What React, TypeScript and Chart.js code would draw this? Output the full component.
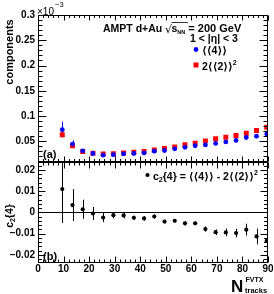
import { useEffect, useRef } from 'react';
import { Chart, registerables } from 'chart.js';

Chart.register(...registerables);

const FONT = '"Liberation Sans", Arial, Helvetica, "DejaVu Sans", sans-serif';

// N_tracks^FVTX bin centres
const nTracks = [9.5, 13.5, 17.5, 21.5, 25.5, 29.5, 33.5, 37.5, 41.5, 45.5, 49.5, 53.5, 57.5, 61.5, 65.5, 69.5, 73.5, 77.5, 81.5, 85.5, 89.5];
// <<4>> (x 1e-3)
const fourCorr = [0.073, 0.0445, 0.031, 0.0258, 0.0225, 0.0236, 0.0252, 0.0258, 0.027, 0.0305, 0.0318, 0.035, 0.038, 0.0412, 0.0428, 0.0457, 0.0488, 0.0518, 0.0575, 0.0602, 0.0643];
const fourCorrErr = [0.0155, 0.0075, 0.003, 0.002, 0.0015, 0.0013, 0.0012, 0.0011, 0.001, 0.001, 0.001, 0.001, 0.001, 0.001, 0.0011, 0.0012, 0.0013, 0.0014, 0.0016, 0.0018, 0.002];
// 2<<2>>^2 (x 1e-3)
const twoCorrSq = [0.063, 0.041, 0.0296, 0.0263, 0.0251, 0.0252, 0.027, 0.0284, 0.03, 0.0326, 0.0359, 0.039, 0.0432, 0.0464, 0.0508, 0.0552, 0.0582, 0.0615, 0.0658, 0.0715, 0.0778];
const twoCorrSqErr = [0.004, 0.002, 0.0012, 0.001, 0.0008, 0.0008, 0.0008, 0.0008, 0.0008, 0.0008, 0.0008, 0.0008, 0.0008, 0.0008, 0.0009, 0.0009, 0.001, 0.001, 0.0011, 0.0012, 0.0013];
// c2{4}
const c24 = [0.011, 0.0035, 0.0015, -0.0005, -0.0024, -0.0013, -0.0014, -0.0025, -0.0028, -0.0019, -0.0043, -0.0039, -0.0051, -0.0051, -0.0078, -0.0093, -0.0094, -0.0097, -0.0081, -0.0113, -0.0134];
const c24Err = [0.016, 0.0075, 0.0045, 0.0031, 0.0022, 0.0014, 0.0014, 0.001, 0.001, 0.001, 0.0008, 0.0008, 0.001, 0.0008, 0.0012, 0.0013, 0.0018, 0.002, 0.0028, 0.0037, 0.0031];

const xTickValues = [0, 10, 20, 30, 40, 50, 60, 70, 80, 90];
const xTickLabels = ['0', '10', '20', '30', '40', '50', '60', '70', '80', '90'];
const topTickValues = [0.05, 0.1, 0.15, 0.2, 0.25, 0.3];
const topTickLabels = ['0.05', '0.1', '0.15', '0.2', '0.25', '0.3'];
const botTickValues = [-0.02, -0.01, 0, 0.01, 0.02];
const botTickLabels = ['\u22120.02', '\u22120.01', '0', '0.01', '0.02'];

const BLUE = '#0000ff';
const RED = '#ff0000';

type Run = { t: string; size: number; dy?: number; bold?: boolean; family?: string };

function font(size: number, bold = true, family = FONT) {
  return `${bold ? 'bold ' : ''}${size}px ${family}`;
}

function runsWidth(ctx: CanvasRenderingContext2D, runs: Run[]) {
  let w = 0;
  for (const r of runs) {
    ctx.font = font(r.size, r.bold ?? true, r.family);
    w += ctx.measureText(r.t).width;
  }
  return w;
}

function drawRuns(ctx: CanvasRenderingContext2D, runs: Run[], x: number, y: number) {
  let cx = x;
  ctx.textAlign = 'left';
  ctx.textBaseline = 'alphabetic';
  for (const r of runs) {
    ctx.font = font(r.size, r.bold ?? true, r.family);
    ctx.fillText(r.t, cx, y + (r.dy || 0));
    cx += ctx.measureText(r.t).width;
  }
  return cx;
}

function hline(ctx: CanvasRenderingContext2D, x1: number, x2: number, y: number) {
  ctx.beginPath();
  ctx.moveTo(x1, y);
  ctx.lineTo(x2, y);
  ctx.stroke();
}
function vline(ctx: CanvasRenderingContext2D, x: number, y1: number, y2: number) {
  ctx.beginPath();
  ctx.moveTo(x, y1);
  ctx.lineTo(x, y2);
  ctx.stroke();
}

function drawErrors(ctx: CanvasRenderingContext2D, xs: any, ys: any, xv: number[], yv: number[], ev: number[], color: string) {
  ctx.save();
  ctx.beginPath();
  ctx.rect(xs.left, ys.top, xs.right - xs.left, ys.bottom - ys.top);
  ctx.clip();
  ctx.strokeStyle = color;
  ctx.lineWidth = 1;
  for (let i = 0; i < xv.length; i++) {
    const px = Math.round(xs.getPixelForValue(xv[i])) + 0.5;
    const y1 = ys.getPixelForValue(yv[i] + ev[i]);
    const y2 = ys.getPixelForValue(yv[i] - ev[i]);
    vline(ctx, px, y1, y2);
  }
  ctx.restore();
}

function drawPanel(ctx: CanvasRenderingContext2D, xs: any, ys: any, majors: number[], minorStep: number,
  yMaj: number, yMin: number, xMaj: number, xMin: number) {
  const L = Math.round(xs.left) + 0.5;
  const R = Math.round(xs.right) - 0.5;
  const T = Math.round(ys.top) + 0.5;
  const B = Math.round(ys.bottom) - 0.5;
  ctx.save();
  ctx.strokeStyle = '#000';
  ctx.lineWidth = 1;
  ctx.strokeRect(L, T, R - L, B - T);
  const lo = ys.min, hi = ys.max;
  const start = Math.ceil(lo / minorStep - 1e-6);
  const end = Math.floor(hi / minorStep + 1e-6);
  for (let k = start; k <= end; k++) {
    const v = k * minorStep;
    const isMaj = majors.some((m) => Math.abs(m - v) < minorStep / 10);
    const len = isMaj ? yMaj : yMin;
    const py = Math.round(ys.getPixelForValue(v)) + 0.5;
    hline(ctx, L, L + len, py);
    hline(ctx, R, R - len, py);
  }
  for (let v = 0; v <= 90; v += 2) {
    const isMaj = v % 10 === 0;
    const len = isMaj ? xMaj : xMin;
    const px = Math.round(xs.getPixelForValue(v)) + 0.5;
    vline(ctx, px, T, T + len);
    vline(ctx, px, B, B - len);
  }
  ctx.restore();
}

const rootStyle = {
  id: 'rootStyle',
  beforeDatasetsDraw(chart: any) {
    const ctx = chart.ctx as CanvasRenderingContext2D;
    const { x, yTop, yBot } = chart.scales;
    ctx.save();
    ctx.strokeStyle = '#000';
    ctx.lineWidth = 1;
    const y0 = Math.round(yBot.getPixelForValue(0)) + 0.5;
    hline(ctx, x.left, x.right, y0);
    ctx.restore();
    drawErrors(ctx, x, yTop, nTracks, twoCorrSq, twoCorrSqErr, RED);
    drawErrors(ctx, x, yTop, nTracks, fourCorr, fourCorrErr, BLUE);
    drawErrors(ctx, x, yBot, nTracks, c24, c24Err, '#000');
  },
  afterDatasetsDraw(chart: any) {
    const ctx = chart.ctx as CanvasRenderingContext2D;
    const { x, yTop, yBot } = chart.scales;
    drawPanel(ctx, x, yTop, topTickValues, 0.01, 8, 4, 5, 2.5);
    drawPanel(ctx, x, yBot, botTickValues, 0.002, 7, 3.5, 6, 3);

    ctx.save();
    ctx.fillStyle = '#000';
    // x10^-3
    drawRuns(ctx, [{ t: '\u00d710', size: 10, bold: false }], 37, 15);
    drawRuns(ctx, [{ t: '\u22123', size: 7.5, bold: false }], 55, 7);

    // y title upper
    ctx.save();
    ctx.translate(12.5, 52);
    ctx.rotate(-Math.PI / 2);
    ctx.font = font(11);
    ctx.textAlign = 'center';
    ctx.textBaseline = 'alphabetic';
    ctx.fillText('components', 0, 0);
    ctx.restore();

    // y title lower: c2{4}
    ctx.save();
    const cRuns: Run[] = [{ t: 'c', size: 10.5 }, { t: '2', size: 7, dy: 2.5 }, { t: '{4}', size: 10.5 }];
    const cw = runsWidth(ctx, cRuns);
    ctx.translate(12.5, 216);
    ctx.rotate(-Math.PI / 2);
    drawRuns(ctx, cRuns, -cw / 2, 0);
    ctx.restore();

    // x title
    drawRuns(ctx, [{ t: 'N', size: 17 }], 231, 291.5);
    drawRuns(ctx, [{ t: 'FVTX', size: 7 }], 245.5, 282);
    drawRuns(ctx, [{ t: 'tracks', size: 7.5 }], 245, 292.5);

    // panel labels
    drawRuns(ctx, [{ t: '(a)', size: 11 }], 43, 158);
    drawRuns(ctx, [{ t: '(b)', size: 11 }], 43, 260);

    // upper annotation
    drawRuns(ctx, [{ t: 'AMPT d+Au', size: 10.5 }], 103, 32);
    drawRuns(ctx, [{ t: '\u221a', size: 11, bold: false, family: '"DejaVu Sans", sans-serif' }], 165, 33);
    ctx.strokeStyle = '#000';
    ctx.lineWidth = 0.8;
    hline(ctx, 171.5, 188, 22.5);
    drawRuns(ctx, [{ t: 's', size: 10.5 }, { t: 'NN', size: 5.5, dy: 2 }, { t: ' = 200 GeV', size: 11 }], 171.5, 32);
    drawRuns(ctx, [{ t: '1 < |\u03b7| < 3', size: 10.5 }], 190, 42);

    // legend upper
    ctx.fillStyle = BLUE;
    ctx.beginPath();
    ctx.arc(196, 49.5, 2.4, 0, Math.PI * 2);
    ctx.fill();
    ctx.fillStyle = RED;
    ctx.fillRect(193.5, 62.5, 5, 5);
    ctx.fillStyle = '#000';
    drawRuns(ctx, [{ t: '\u27e8\u27e84\u27e9\u27e9', size: 10.5 }], 202, 53.5);
    drawRuns(ctx, [{ t: '2\u27e8\u27e82\u27e9\u27e9', size: 10.5 }, { t: '2', size: 7, dy: -5 }], 202, 70);

    // legend lower
    ctx.beginPath();
    ctx.arc(147.5, 175, 2.1, 0, Math.PI * 2);
    ctx.fill();
    drawRuns(ctx, [
      { t: 'c', size: 10.5 }, { t: '2', size: 7, dy: 2.5 },
      { t: '{4} = \u27e8\u27e84\u27e9\u27e9 - 2\u27e8\u27e82\u27e9\u27e9', size: 10.5 },
      { t: '2', size: 7, dy: -5 },
    ], 153, 179.5);
    ctx.restore();
  },
};

export default function App() {
  const ref = useRef<HTMLCanvasElement | null>(null);
  useEffect(() => {
    if (!ref.current) return;
    const tickFont = { family: FONT, size: 10, weight: 'bold' as const };
    const chart = new Chart(ref.current, {
      type: 'scatter',
      data: {
        datasets: [
          {
            label: '\u27e8\u27e84\u27e9\u27e9',
            data: nTracks.map((x, i) => ({ x, y: fourCorr[i] })),
            yAxisID: 'yTop',
            pointStyle: 'circle',
            pointRadius: 2.4,
            backgroundColor: BLUE,
            borderWidth: 0,
          },
          {
            label: '2\u27e8\u27e82\u27e9\u27e9\u00b2',
            data: nTracks.map((x, i) => ({ x, y: twoCorrSq[i] })),
            yAxisID: 'yTop',
            pointStyle: 'rect',
            pointRadius: 3.5,
            backgroundColor: RED,
            borderWidth: 0,
          },
          {
            label: 'c2{4}',
            data: nTracks.map((x, i) => ({ x, y: c24[i] })),
            yAxisID: 'yBot',
            pointStyle: 'circle',
            pointRadius: 2.1,
            backgroundColor: '#000',
            borderWidth: 0,
          },
        ],
      },
      options: {
        animation: false,
        responsive: false,
        events: [],
        layout: { padding: { top: 15, right: 6, left: 0, bottom: 0 } },
        plugins: { legend: { display: false }, tooltip: { enabled: false }, title: { display: false } },
        scales: {
          x: {
            type: 'linear',
            position: 'bottom',
            min: 0,
            max: 90,
            grid: { display: false, drawTicks: false },
            border: { display: false },
            afterBuildTicks: (axis: any) => { axis.ticks = xTickValues.map((v) => ({ value: v })); },
            afterFit: (axis: any) => { axis.height = 31; },
            ticks: {
              font: tickFont,
              color: '#000',
              padding: 0,
              autoSkip: false,
              maxRotation: 0,
              callback: (_v: any, i: number) => xTickLabels[i],
            },
          },
          yTop: {
            type: 'linear',
            position: 'left',
            stack: 'panels',
            stackWeight: 146.5,
            weight: 2,
            min: 0.01,
            max: 0.3,
            grid: { display: false, drawTicks: false },
            border: { display: false },
            afterBuildTicks: (axis: any) => { axis.ticks = topTickValues.map((v) => ({ value: v })); },
            afterFit: (axis: any) => { axis.width = 38; },
            ticks: {
              font: tickFont,
              color: '#000',
              padding: 3,
              autoSkip: false,
              callback: (_v: any, i: number) => topTickLabels[i],
            },
          },
          yBot: {
            type: 'linear',
            position: 'left',
            stack: 'panels',
            stackWeight: 101.5,
            weight: 1,
            min: -0.0238,
            max: 0.024,
            grid: { display: false, drawTicks: false },
            border: { display: false },
            afterBuildTicks: (axis: any) => { axis.ticks = botTickValues.map((v) => ({ value: v })); },
            afterFit: (axis: any) => { axis.width = 38; },
            ticks: {
              font: tickFont,
              color: '#000',
              padding: 3,
              autoSkip: false,
              callback: (_v: any, i: number) => botTickLabels[i],
            },
          },
        },
      },
      plugins: [rootStyle],
    });
    return () => chart.destroy();
  }, []);
  return (
    <div style={{ position: 'fixed', left: 0, top: 0, width: 274, height: 294, background: '#fff' }}>
      <canvas ref={ref} width={274} height={294} style={{ display: 'block', width: 274, height: 294 }} />
    </div>
  );
}
